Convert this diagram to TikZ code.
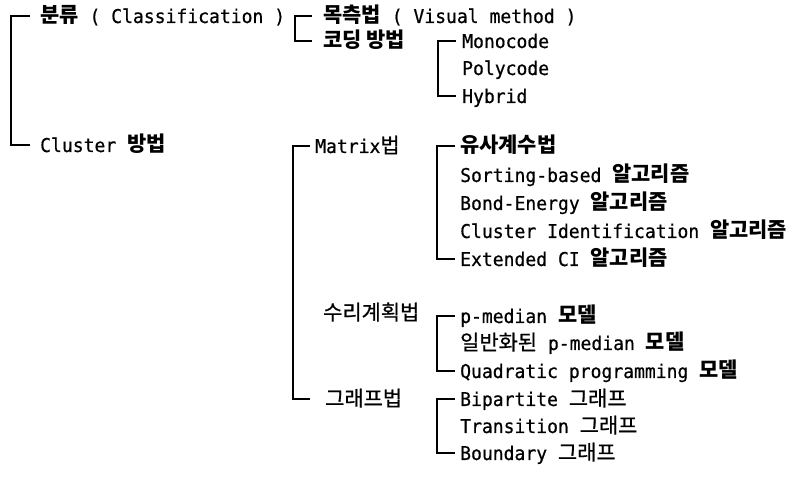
\documentclass[tikz,border=0pt]{standalone}
\usepackage{fontspec}
\setmainfont{DejaVu Sans Mono}[FakeStretch=0.95, FakeBold=0.6]
\newfontfamily\kr{Noto Sans CJK KR}[Scale=1.1, UprightFeatures={FakeBold=0.8}]
\newcommand{\hanB}[1]{{\kr\bfseries #1}}
\newcommand{\hanR}[1]{{\kr #1}}

\begin{document}
\begin{tikzpicture}[x=1pt, y=-1pt,
  item/.style={anchor=west, inner sep=0pt, text height=16pt,
    text depth=2pt, font=\fontsize{19}{21}\selectfont},
  brk/.style={line width=1.3pt},
]
\useasboundingbox (0,0) rectangle (804,486);
% first level
\node[item] (cls)   at (40,16)   {\hanB{분류} ( Classification )};
\node[item] (clu)   at (40,145)  {Cluster \hanB{방법}};
% classification
\node[item] (vis)   at (323,16)  {\hanB{목측법} ( Visual method )};
\node[item] (cod)   at (323,41)  {\hanB{코딩 방법}};
\node[item] (mono)  at (462,41)  {Monocode};
\node[item] (poly)  at (462,68)  {Polycode};
\node[item] (hyb)   at (462,96)  {Hybrid};
% cluster methods
\node[item] (mat)   at (315,146) {Matrix\hanR{법}};
\node[item] (sim)   at (460,146) {\hanB{유사계수법}};
\node[item] (sort)  at (460,175) {Sorting-based \hanB{알고리즘}};
\node[item] (bond)  at (460,203) {Bond-Energy \hanB{알고리즘}};
\node[item] (cid)   at (460,231) {Cluster Identification \hanB{알고리즘}};
\node[item] (eci)   at (460,259) {Extended CI \hanB{알고리즘}};
\node[item] (math)  at (323,313) {\hanR{수리계획법}};
\node[item] (pmed)  at (460,316) {p-median \hanB{모델}};
\node[item] (gpm)   at (460,343) {\hanR{일반화된} p-median \hanB{모델}};
\node[item] (quad)  at (460,371) {Quadratic programming \hanB{모델}};
\node[item] (graph) at (325,399) {\hanR{그래프법}};
\node[item] (bip)   at (460,399) {Bipartite \hanR{그래프}};
\node[item] (tra)   at (460,426) {Transition \hanR{그래프}};
\node[item] (bnd)   at (460,453) {Boundary \hanR{그래프}};
% brackets
\draw[brk] ([xshift=-10pt]cls.west) -- ++(-19,0) |- ([xshift=-10pt]clu.west);
\draw[brk] ([xshift=-11pt]vis.west) -- ++(-17,0) |- ([xshift=-11pt]cod.west);
\draw[brk] ([xshift=-6pt]mono.west) -- ++(-18,0) |- ([xshift=-6pt]hyb.west);
\draw[brk] ([xshift=-5pt]mat.west) -- ++(-17,0) |- ([xshift=-15pt]graph.west);
\draw[brk] ([xshift=-5pt]sim.west) -- ++(-18,0) |- ([xshift=-5pt]eci.west);
\draw[brk] ([xshift=-5pt]pmed.west) -- ++(-18,0) |- ([xshift=-5pt]quad.west);
\draw[brk] ([xshift=-5pt]bip.west) -- ++(-18,0) |- ([xshift=-5pt]bnd.west);
\end{tikzpicture}
\end{document}
